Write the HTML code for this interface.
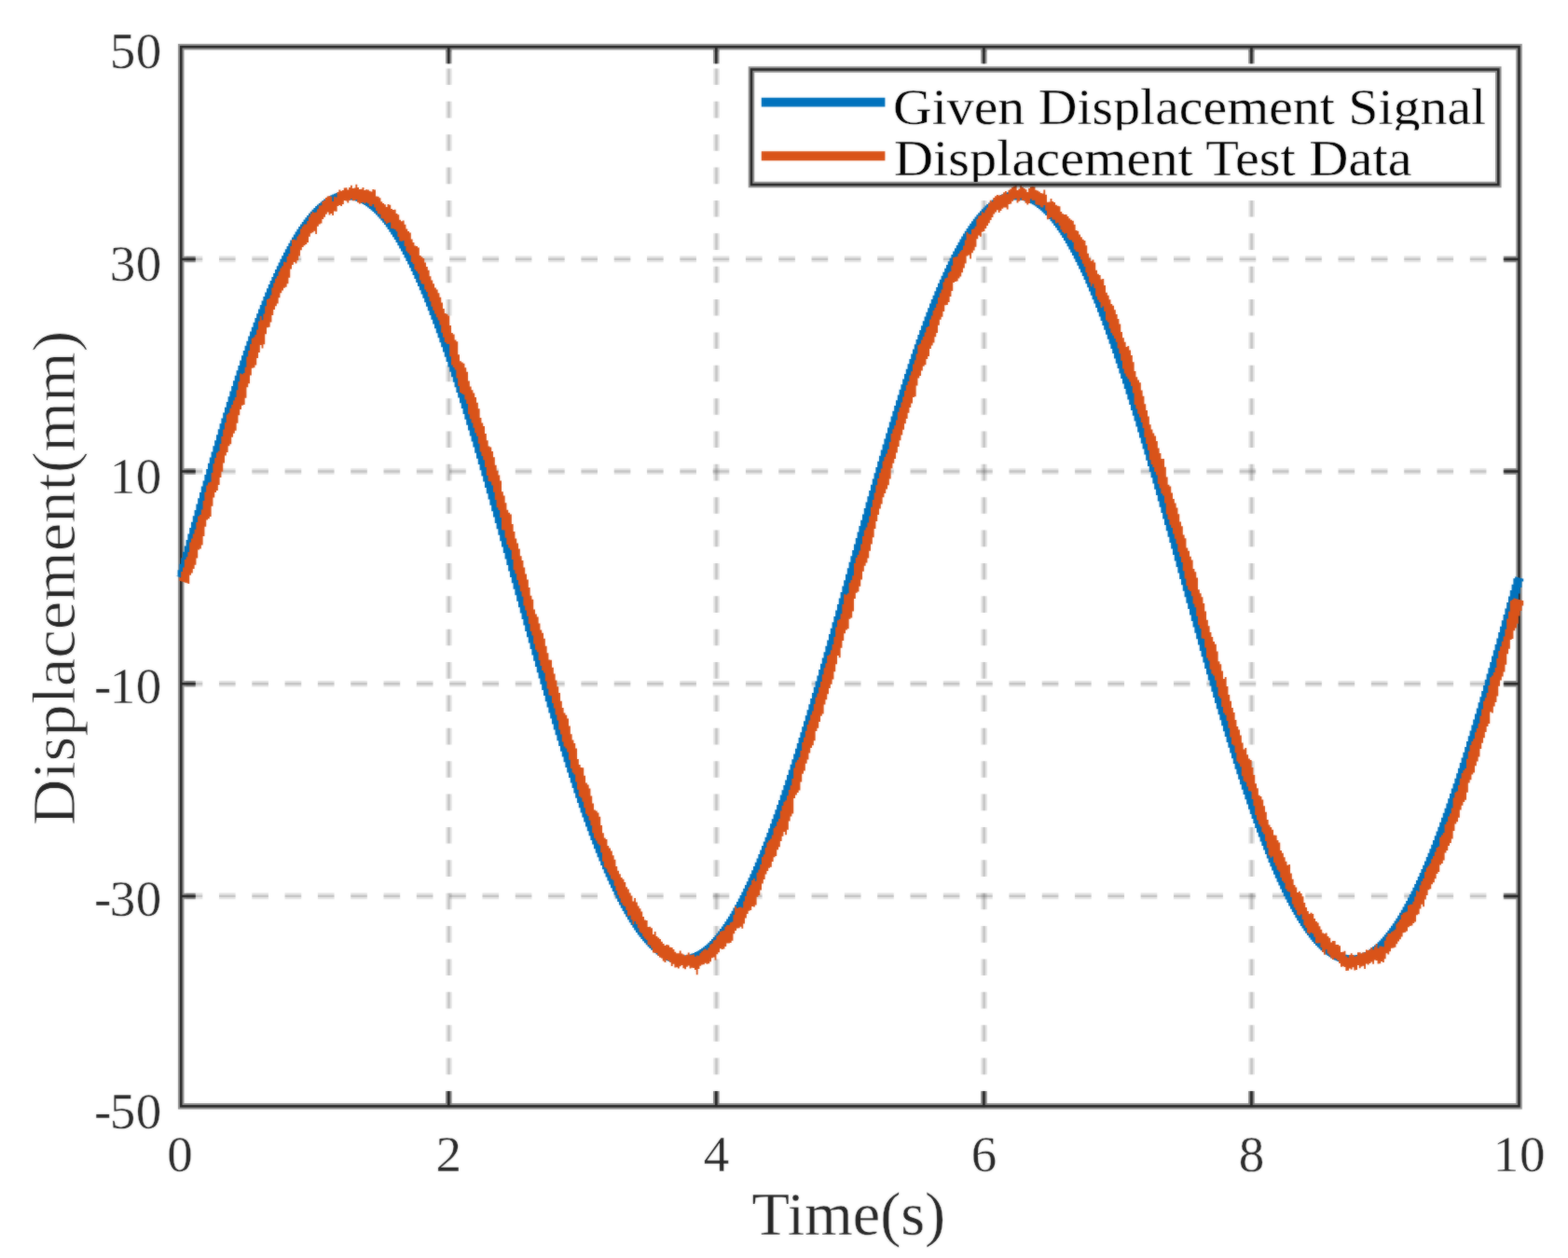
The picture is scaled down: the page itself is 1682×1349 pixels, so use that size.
<!DOCTYPE html>
<html lang="en"><head><meta charset="utf-8"><title>Displacement tracking</title>
<style>html,body{margin:0;padding:0;background:#fff;}body{width:1682px;height:1349px;overflow:hidden;}svg{display:block;}text{font-family:"Liberation Serif","DejaVu Serif",serif;}</style></head><body>
<svg width="1682" height="1349" viewBox="0 0 1682 1349">
<defs><filter id="soft" color-interpolation-filters="sRGB" filterUnits="userSpaceOnUse" x="0" y="0" width="1682" height="1349"><feGaussianBlur stdDeviation="1" result="b"/><feComposite in="SourceGraphic" in2="b" operator="arithmetic" k1="0" k2="0.6" k3="0.4" k4="0"/></filter></defs>
<rect x="0" y="0" width="1682" height="1349" fill="#ffffff"/>
<g filter="url(#soft)">
<rect x="0" y="0" width="1682" height="1349" fill="#ffffff"/>
<g fill="none" stroke-dasharray="17.6 17.77">
<path d="M481.5 1187.5V50.3M768.5 1187.5V50.3M1055.6 1187.5V50.3M1342.6 1187.5V50.3" stroke="#262626" stroke-opacity="0.125" stroke-width="6.6"/>
<path d="M481.5 1187.5V50.3M768.5 1187.5V50.3M1055.6 1187.5V50.3M1342.6 1187.5V50.3" stroke="#262626" stroke-opacity="0.17" stroke-width="2.4"/>
</g>
<g fill="none" stroke-dasharray="17.6 17.71">
<path d="M199.7 277.9H1629.5M199.7 505.5H1629.5M199.7 733.3H1629.5M199.7 960.9H1629.5" stroke="#262626" stroke-opacity="0.125" stroke-width="6.6"/>
<path d="M199.7 277.9H1629.5M199.7 505.5H1629.5M199.7 733.3H1629.5M199.7 960.9H1629.5" stroke="#262626" stroke-opacity="0.17" stroke-width="2.4"/>
</g>
<g fill="none" stroke="#262626">
<path d="M194.2 50.3H1629.5V1186.2H194.2ZM481.3 1186.2v-16.2M481.3 50.3v18M768.3 1186.2v-16.2M768.3 50.3v18M1055.4 1186.2v-16.2M1055.4 50.3v18M1342.4 1186.2v-16.2M1342.4 50.3v18M194.2 277.9h15.5M1629.5 277.9h-16.3M194.2 505.5h15.5M1629.5 505.5h-16.3M194.2 733.3h15.5M1629.5 733.3h-16.3M194.2 960.9h15.5M1629.5 960.9h-16.3" stroke-width="6.5" stroke-opacity="0.5"/>
<path d="M194.2 50.3H1629.5V1186.2H194.2ZM481.3 1186.2v-16.2M481.3 50.3v18M768.3 1186.2v-16.2M768.3 50.3v18M1055.4 1186.2v-16.2M1055.4 50.3v18M1342.4 1186.2v-16.2M1342.4 50.3v18M194.2 277.9h15.5M1629.5 277.9h-16.3M194.2 505.5h15.5M1629.5 505.5h-16.3M194.2 733.3h15.5M1629.5 733.3h-16.3M194.2 960.9h15.5M1629.5 960.9h-16.3" stroke-width="2.5"/>
</g>
<g fill="none" stroke-width="1.86">
<path d="M189.7 617.7V618.1M191.5 611.2V618.6M193.3 604.8V619.1M195.1 598.3V619.7M196.9 591.8V620.2M198.7 585.4V620.7M200.5 579V614.7M202.3 572.5V608.2M204.1 566.1V601.7M205.9 559.7V595.3M207.7 553.3V588.8M209.5 546.9V582.4M211.3 540.6V576M213.1 534.2V569.5M214.9 527.9V563.1M216.7 521.6V556.8M218.5 515.4V550.4M220.3 509.1V544M222.1 502.9V537.7M223.9 496.7V531.4M225.7 490.6V525.1M227.5 484.4V518.8M229.3 478.3V512.5M231.1 472.3V506.3M232.9 466.3V500.1M234.7 460.3V494M236.5 454.3V487.8M238.3 448.4V481.7M240.1 442.6V475.7M241.9 436.7V469.6M243.7 431V463.7M245.5 425.2V457.7M247.3 419.5V451.8M249.1 413.9V445.9M250.9 408.3V440.1M252.7 402.8V434.3M254.5 397.3V428.6M256.3 391.9V422.9M258.1 386.5V417.3M259.9 381.2V411.7M261.7 376V406.2M263.5 370.8V400.7M265.3 365.7V395.3M267.1 360.6V389.9M268.9 355.6V384.6M270.7 350.7V379.3M272.5 345.8V374.1M274.3 341V369M276.1 336.3V363.9M277.9 331.6V358.9M279.7 327V354M281.5 322.5V349.1M283.3 318V344.3M285.1 313.6V339.6M286.9 309.3V334.9M288.7 305.1V330.3M290.5 301V325.8M292.3 296.9V321.4M294.1 292.9V317M295.9 289V312.7M297.7 285.2V308.5M299.5 281.4V304.3M301.3 277.8V300.3M303.1 274.2V296.3M304.9 270.7V292.4M306.7 267.3V288.6M308.5 263.9V284.9M310.3 260.7V281.2M312.1 257.6V277.7M313.9 254.5V274.2M315.7 251.5V270.8M317.5 248.6V267.5M319.3 245.8V264.3M321.1 243.1V261.2M322.9 240.5V258.2M324.7 238V255.2M326.5 235.6V252.4M328.3 233.2V249.6M330.1 231V247M331.9 228.8V244.4M333.7 226.8V242M335.5 224.8V239.6M337.3 222.9V237.3M339.1 221.1V235.2M340.9 219.5V233.1M342.7 217.9V231.2M344.5 216.4V229.3M346.3 215V227.6M348.1 213.6V225.9M349.9 212.4V224.4M351.7 211.3V222.9M353.5 210.3V221.6M355.3 209.3V220.4M357.1 208.5V219.3M358.9 207.7V218.3M360.7 207V217.4M362.5 206.5V216.6M364.3 206V216M366.1 205.6V215.4M367.9 205.2V215M369.7 205V214.7M371.5 204.9V214.5M373.3 204.8V214.4M375.1 204.8V214.4M376.9 204.9V214.6M378.7 205.1V214.9M380.5 205.4V215.3M382.3 205.8V215.8M384.1 206.3V216.4M385.9 206.8V217.1M387.7 207.5V218M389.5 208.2V218.9M391.3 209V220M393.1 209.9V221.2M394.9 210.9V222.5M396.7 212V223.9M398.5 213.2V225.4M400.3 214.5V227M402.1 215.9V228.7M403.9 217.3V230.5M405.7 218.9V232.4M407.5 220.5V234.5M409.3 222.3V236.6M411.1 224.1V238.8M412.9 226.1V241.1M414.7 228.1V243.6M416.5 230.2V246.1M418.3 232.4V248.7M420.1 234.7V251.4M421.9 237.1V254.2M423.7 239.6V257.1M425.5 242.2V260.1M427.3 244.9V263.2M429.1 247.6V266.4M430.9 250.5V269.6M432.7 253.4V273M434.5 256.5V276.4M436.3 259.6V280M438.1 262.8V283.6M439.9 266.1V287.3M441.7 269.5V291.1M443.5 273V294.9M445.3 276.5V298.9M447.1 280.1V302.9M448.9 283.9V307M450.7 287.7V311.2M452.5 291.5V315.5M454.3 295.5V319.8M456.1 299.5V324.3M457.9 303.7V328.8M459.7 307.9V333.3M461.5 312.1V338M463.3 316.5V342.7M465.1 320.9V347.4M466.9 325.4V352.3M468.7 330V357.2M470.5 334.6V362.2M472.3 339.3V367.2M474.1 344.1V372.3M475.9 349V377.5M477.7 353.9V382.7M479.5 358.9V388M481.3 363.9V393.4M483.1 369V398.8M484.9 374.2V404.2M486.7 379.4V409.8M488.5 384.7V415.3M490.3 390V420.9M492.1 395.4V426.6M493.9 400.9V432.3M495.7 406.4V438.1M497.5 412V443.9M499.3 417.6V449.8M501.1 423.3V455.7M502.9 429V461.6M504.7 434.7V467.6M506.5 440.5V473.6M508.3 446.4V479.6M510.1 452.3V485.7M511.9 458.2V491.8M513.7 464.2V498M515.5 470.2V504.2M517.3 476.2V510.4M519.1 482.3V516.6M520.9 488.4V522.9M522.7 494.6V529.2M524.5 500.8V535.5M526.3 507V541.8M528.1 513.2V548.2M529.9 519.5V554.5M531.7 525.7V560.9M533.5 532.1V567.3M535.3 538.4V573.7M537.1 544.7V580.2M538.9 551.1V586.6M540.7 557.5V593M542.5 563.9V599.5M544.3 570.3V606M546.1 576.7V612.4M547.9 583.2V618.9M549.7 589.6V625.3M551.5 596.1V631.8M553.3 602.5V638.3M555.1 609V644.7M556.9 615.4V651.2M558.7 621.9V657.6M560.5 628.4V664M562.3 634.8V670.5M564.1 641.3V676.9M565.9 647.7V683.3M567.7 654.2V689.6M569.5 660.6V696M571.3 667V702.4M573.1 673.4V708.7M574.9 679.8V715M576.7 686.2V721.3M578.5 692.6V727.5M580.3 698.9V733.7M582.1 705.3V739.9M583.9 711.6V746.1M585.7 717.8V752.2M587.5 724.1V758.4M589.3 730.3V764.4M591.1 736.5V770.5M592.9 742.7V776.5M594.7 748.8V782.4M596.5 754.9V788.3M598.3 761V794.2M600.1 767.1V800.1M601.9 773.1V805.8M603.7 779V811.6M605.5 785V817.3M607.3 790.8V822.9M609.1 796.7V828.5M610.9 802.5V834.1M612.7 808.2V839.6M614.5 813.9V845M616.3 819.6V850.4M618.1 825.2V855.7M619.9 830.7V861M621.7 836.2V866.2M623.5 841.7V871.4M625.3 847.1V876.4M627.1 852.4V881.5M628.9 857.7V886.4M630.7 862.9V891.3M632.5 868V896.2M634.3 873.1V900.9M636.1 878.1V905.6M637.9 883.1V910.2M639.7 888V914.8M641.5 892.8V919.2M643.3 897.6V923.6M645.1 902.3V928M646.9 906.9V932.2M648.7 911.4V936.4M650.5 915.9V940.5M652.3 920.3V944.5M654.1 924.6V948.4M655.9 928.9V952.3M657.7 933V956.1M659.5 937.1V959.8M661.3 941.1V963.4M663.1 945V966.9M664.9 948.9V970.4M666.7 952.6V973.7M668.5 956.3V977M670.3 959.9V980.2M672.1 963.4V983.3M673.9 966.8V986.3M675.7 970.2V989.2M677.5 973.4V992M679.3 976.5V994.7M681.1 979.6V997.4M682.9 982.6V999.9M684.7 985.4V1002.4M686.5 988.2V1004.8M688.3 990.9V1007.1M690.1 993.5V1009.2M691.9 996V1011.3M693.7 998.4V1013.3M695.5 1000.7V1015.2M697.3 1002.9V1017M699.1 1005V1018.8M700.9 1007V1020.4M702.7 1008.9V1021.9M704.5 1010.6V1023.4M706.3 1012.3V1024.7M708.1 1013.9V1026M709.9 1015.4V1027.1M711.7 1016.7V1028.2M713.5 1018V1029.2M715.3 1019.1V1030M717.1 1020.2V1030.8M718.9 1021.1V1031.5M720.7 1021.9V1032.2M722.5 1022.6V1032.7M724.3 1023.2V1033.1M726.1 1023.7V1033.5M727.9 1024V1033.7M729.7 1024.3V1033.9M731.5 1024.4V1034M733.3 1024.4V1034M735.1 1024.3V1033.9M736.9 1024V1033.7M738.7 1023.7V1033.5M740.5 1023.2V1033.1M742.3 1022.6V1032.7M744.1 1022V1032.2M745.9 1021.1V1031.6M747.7 1020.2V1030.9M749.5 1019.2V1030.1M751.3 1018.1V1029.2M753.1 1016.8V1028.2M754.9 1015.4V1027.2M756.7 1014V1026M758.5 1012.4V1024.8M760.3 1010.7V1023.4M762.1 1008.9V1022M763.9 1007V1020.5M765.7 1005.1V1018.8M767.5 1003V1017.1M769.3 1000.8V1015.3M771.1 998.5V1013.4M772.9 996.1V1011.4M774.7 993.6V1009.3M776.5 991V1007.1M778.3 988.3V1004.9M780.1 985.6V1002.5M781.9 982.7V1000M783.7 979.7V997.5M785.5 976.7V994.9M787.3 973.5V992.1M789.1 970.3V989.3M790.9 967V986.4M792.7 963.6V983.4M794.5 960.1V980.3M796.3 956.5V977.1M798.1 952.8V973.8M799.9 949V970.5M801.7 945.2V967.1M803.5 941.3V963.5M805.3 937.3V959.9M807.1 933.2V956.2M808.9 929V952.5M810.7 924.8V948.6M812.5 920.5V944.7M814.3 916.1V940.7M816.1 911.6V936.6M817.9 907.1V932.4M819.7 902.5V928.2M821.5 897.8V923.8M823.3 893V919.4M825.1 888.2V915M826.9 883.3V910.4M828.7 878.3V905.8M830.5 873.3V901.1M832.3 868.2V896.4M834.1 863.1V891.5M835.9 857.9V886.6M837.7 852.6V881.7M839.5 847.3V876.7M841.3 841.9V871.6M843.1 836.5V866.4M844.9 831V861.2M846.7 825.4V855.9M848.5 819.8V850.6M850.3 814.2V845.2M852.1 808.5V839.8M853.9 802.7V834.3M855.7 796.9V828.8M857.5 791.1V823.2M859.3 785.2V817.5M861.1 779.3V811.8M862.9 773.3V806.1M864.7 767.3V800.3M866.5 761.3V794.5M868.3 755.2V788.6M870.1 749.1V782.7M871.9 743V776.7M873.7 736.8V770.7M875.5 730.6V764.7M877.3 724.4V758.6M879.1 718.1V752.5M880.9 711.8V746.4M882.7 705.5V740.2M884.5 699.2V734M886.3 692.8V727.8M888.1 686.5V721.5M889.9 680.1V715.2M891.7 673.7V708.9M893.5 667.3V702.6M895.3 660.9V696.3M897.1 654.4V689.9M898.9 648V683.5M900.7 641.5V677.1M902.5 635.1V670.7M904.3 628.6V664.3M906.1 622.2V657.9M907.9 615.7V651.4M909.7 609.2V645M911.5 602.8V638.5M913.3 596.3V632.1M915.1 589.9V625.6M916.9 583.4V619.1M918.7 577V612.7M920.5 570.6V606.2M922.3 564.1V599.8M924.1 557.7V593.3M925.9 551.4V586.9M927.7 545V580.4M929.5 538.6V574M931.3 532.3V567.6M933.1 526V561.2M934.9 519.7V554.8M936.7 513.5V548.4M938.5 507.2V542.1M940.3 501V535.7M942.1 494.8V529.4M943.9 488.7V523.1M945.7 482.6V516.9M947.5 476.5V510.6M949.3 470.4V504.4M951.1 464.4V498.2M952.9 458.4V492.1M954.7 452.5V486M956.5 446.6V479.9M958.3 440.8V473.8M960.1 435V467.8M961.9 429.2V461.8M963.7 423.5V455.9M965.5 417.8V450M967.3 412.2V444.1M969.1 406.6V438.3M970.9 401.1V432.6M972.7 395.7V426.9M974.5 390.3V421.2M976.3 384.9V415.6M978.1 379.6V410M979.9 374.4V404.5M981.7 369.2V399M983.5 364.1V393.6M985.3 359.1V388.3M987.1 354.1V383M988.9 349.2V377.7M990.7 344.3V372.6M992.5 339.5V367.4M994.3 334.8V362.4M996.1 330.2V357.4M997.9 325.6V352.5M999.7 321.1V347.6M1001.5 316.7V342.9M1003.3 312.3V338.2M1005.1 308V333.5M1006.9 303.8V328.9M1008.7 299.7V324.4M1010.5 295.7V320M1012.3 291.7V315.7M1014.1 287.8V311.4M1015.9 284V307.2M1017.7 280.3V303.1M1019.5 276.7V299.1M1021.3 273.1V295.1M1023.1 269.6V291.2M1024.9 266.2V287.4M1026.7 262.9V283.7M1028.5 259.7V280.1M1030.3 256.6V276.6M1032.1 253.6V273.1M1033.9 250.6V269.8M1035.7 247.8V266.5M1037.5 245V263.3M1039.3 242.3V260.2M1041.1 239.7V257.2M1042.9 237.2V254.3M1044.7 234.8V251.5M1046.5 232.5V248.8M1048.3 230.3V246.2M1050.1 228.2V243.7M1051.9 226.2V241.2M1053.7 224.2V238.9M1055.5 222.4V236.7M1057.3 220.6V234.5M1059.1 219V232.5M1060.9 217.4V230.6M1062.7 215.9V228.8M1064.5 214.6V227M1066.3 213.3V225.4M1068.1 212.1V223.9M1069.9 211V222.5M1071.7 210V221.2M1073.5 209.1V220M1075.3 208.2V219M1077.1 207.5V218M1078.9 206.9V217.1M1080.7 206.3V216.4M1082.5 205.8V215.8M1084.3 205.4V215.3M1086.1 205.2V214.9M1087.9 205V214.6M1089.7 204.8V214.4M1091.5 204.8V214.4M1093.3 204.9V214.5M1095.1 205V214.7M1096.9 205.2V215M1098.7 205.5V215.4M1100.5 205.9V215.9M1102.3 206.4V216.6M1104.1 207V217.4M1105.9 207.7V218.2M1107.7 208.4V219.2M1109.5 209.3V220.3M1111.3 210.2V221.6M1113.1 211.3V222.9M1114.9 212.4V224.3M1116.7 213.6V225.8M1118.5 214.9V227.5M1120.3 216.3V229.2M1122.1 217.8V231.1M1123.9 219.4V233M1125.7 221.1V235.1M1127.5 222.8V237.3M1129.3 224.7V239.5M1131.1 226.7V241.9M1132.9 228.7V244.3M1134.7 230.9V246.9M1136.5 233.1V249.5M1138.3 235.5V252.3M1140.1 237.9V255.1M1141.9 240.4V258M1143.7 243V261.1M1145.5 245.7V264.2M1147.3 248.5V267.4M1149.1 251.4V270.7M1150.9 254.4V274M1152.7 257.4V277.5M1154.5 260.6V281.1M1156.3 263.8V284.7M1158.1 267.1V288.4M1159.9 270.5V292.3M1161.7 274V296.1M1163.5 277.6V300.1M1165.3 281.3V304.2M1167.1 285V308.3M1168.9 288.8V312.5M1170.7 292.7V316.8M1172.5 296.7V321.2M1174.3 300.8V325.6M1176.1 304.9V330.1M1177.9 309.2V334.7M1179.7 313.5V339.4M1181.5 317.8V344.1M1183.3 322.3V348.9M1185.1 326.8V353.8M1186.9 331.4V358.7M1188.7 336.1V363.7M1190.5 340.8V368.8M1192.3 345.6V373.9M1194.1 350.5V379.1M1195.9 355.4V384.4M1197.7 360.4V389.7M1199.5 365.5V395M1201.3 370.6V400.4M1203.1 375.8V405.9M1204.9 381V411.5M1206.7 386.3V417M1208.5 391.7V422.7M1210.3 397.1V428.4M1212.1 402.6V434.1M1213.9 408.1V439.9M1215.7 413.7V445.7M1217.5 419.3V451.6M1219.3 425V457.5M1221.1 430.7V463.4M1222.9 436.5V469.4M1224.7 442.3V475.4M1226.5 448.2V481.5M1228.3 454.1V487.6M1230.1 460V493.7M1231.9 466V499.9M1233.7 472V506.1M1235.5 478.1V512.3M1237.3 484.2V518.5M1239.1 490.3V524.8M1240.9 496.5V531.1M1242.7 502.6V537.4M1244.5 508.9V543.8M1246.3 515.1V550.1M1248.1 521.4V556.5M1249.9 527.7V562.9M1251.7 534V569.3M1253.5 540.3V575.7M1255.3 546.7V582.1M1257.1 553V588.6M1258.9 559.4V595M1260.7 565.8V601.5M1262.5 572.3V607.9M1264.3 578.7V614.4M1266.1 585.1V620.9M1267.9 591.6V627.3M1269.7 598V633.8M1271.5 604.5V640.2M1273.3 610.9V646.7M1275.1 617.4V653.1M1276.9 623.9V659.6M1278.7 630.3V666M1280.5 636.8V672.4M1282.3 643.2V678.8M1284.1 649.7V685.2M1285.9 656.1V691.6M1287.7 662.6V698M1289.5 669V704.3M1291.3 675.4V710.6M1293.1 681.8V716.9M1294.9 688.2V723.2M1296.7 694.5V729.4M1298.5 700.9V735.6M1300.3 707.2V741.8M1302.1 713.5V748M1303.9 719.8V754.1M1305.7 726V760.2M1307.5 732.2V766.3M1309.3 738.4V772.3M1311.1 744.6V778.3M1312.9 750.7V784.2M1314.7 756.8V790.1M1316.5 762.9V796M1318.3 768.9V801.8M1320.1 774.9V807.6M1321.9 780.8V813.3M1323.7 786.8V819M1325.5 792.6V824.7M1327.3 798.5V830.2M1329.1 804.2V835.8M1330.9 810V841.2M1332.7 815.7V846.7M1334.5 821.3V852M1336.3 826.9V857.3M1338.1 832.4V862.6M1339.9 837.9V867.8M1341.7 843.3V872.9M1343.5 848.7V878M1345.3 854V883M1347.1 859.3V887.9M1348.9 864.5V892.8M1350.7 869.6V897.6M1352.5 874.7V902.4M1354.3 879.7V907M1356.1 884.6V911.6M1357.9 889.5V916.1M1359.7 894.3V920.6M1361.5 899V925M1363.3 903.7V929.3M1365.1 908.3V933.5M1366.9 912.8V937.7M1368.7 917.3V941.7M1370.5 921.6V945.7M1372.3 925.9V949.6M1374.1 930.1V953.5M1375.9 934.3V957.2M1377.7 938.3V960.9M1379.5 942.3V964.5M1381.3 946.2V968M1383.1 950V971.4M1384.9 953.8V974.7M1386.7 957.4V978M1388.5 961V981.1M1390.3 964.5V984.2M1392.1 967.9V987.2M1393.9 971.2V990.1M1395.7 974.4V992.9M1397.5 977.5V995.6M1399.3 980.5V998.2M1401.1 983.5V1000.7M1402.9 986.3V1003.1M1404.7 989.1V1005.5M1406.5 991.7V1007.7M1408.3 994.3V1009.9M1410.1 996.7V1012M1411.9 999.1V1013.9M1413.7 1001.4V1015.8M1415.5 1003.5V1017.6M1417.3 1005.6V1019.3M1419.1 1007.6V1020.9M1420.9 1009.4V1022.4M1422.7 1011.2V1023.8M1424.5 1012.8V1025.1M1426.3 1014.4V1026.3M1428.1 1015.8V1027.5M1429.9 1017.1V1028.5M1431.7 1018.4V1029.4M1433.5 1019.5V1030.3M1435.3 1020.5V1031.1M1437.1 1021.4V1031.7M1438.9 1022.1V1032.3M1440.7 1022.8V1032.8M1442.5 1023.4V1033.2M1444.3 1023.8V1033.6M1446.1 1024.1V1033.8M1447.9 1024.3V1033.9M1449.7 1024.4V1034M1451.5 1024.4V1034M1453.3 1024.2V1033.9M1455.1 1023.9V1033.7M1456.9 1023.6V1033.4M1458.7 1023.1V1033M1460.5 1022.4V1032.5M1462.3 1021.7V1032M1464.1 1020.9V1031.4M1465.9 1019.9V1030.6M1467.7 1018.9V1029.8M1469.5 1017.7V1028.9M1471.3 1016.4V1027.9M1473.1 1015V1026.8M1474.9 1013.5V1025.6M1476.7 1011.9V1024.4M1478.5 1010.2V1023M1480.3 1008.4V1021.5M1482.1 1006.4V1020M1483.9 1004.4V1018.3M1485.7 1002.3V1016.6M1487.5 1000.1V1014.7M1489.3 997.8V1012.8M1491.1 995.3V1010.8M1492.9 992.8V1008.7M1494.7 990.2V1006.5M1496.5 987.5V1004.2M1498.3 984.7V1001.8M1500.1 981.8V999.3M1501.9 978.8V996.7M1503.7 975.7V994M1505.5 972.6V991.3M1507.3 969.3V988.4M1509.1 965.9V985.5M1510.9 962.5V982.4M1512.7 959V979.3M1514.5 955.4V976.1M1516.3 951.7V972.8M1518.1 947.9V969.5M1519.9 944V966M1521.7 940.1V962.4M1523.5 936V958.8M1525.3 931.9V955.1M1527.1 927.7V951.3M1528.9 923.5V947.4M1530.7 919.1V943.5M1532.5 914.7V939.4M1534.3 910.2V935.3M1536.1 905.7V931.1M1537.9 901V926.8M1539.7 896.3V922.5M1541.5 891.6V918.1M1543.3 886.7V913.6M1545.1 881.8V909M1546.9 876.8V904.4M1548.7 871.8V899.7M1550.5 866.7V894.9M1552.3 861.5V890M1554.1 856.3V885.1M1555.9 851V880.2M1557.7 845.6V875.1M1559.5 840.2V870M1561.3 834.8V864.8M1563.1 829.3V859.6M1564.9 823.7V854.3M1566.7 818.1V849M1568.5 812.4V843.6M1570.3 806.7V838.1M1572.1 800.9V832.6M1573.9 795.1V827.1M1575.7 789.3V821.4M1577.5 783.4V815.8M1579.3 777.5V810.1M1581.1 771.5V804.3M1582.9 765.5V798.5M1584.7 759.4V792.7M1586.5 753.3V786.8M1588.3 747.2V780.8M1590.1 741.1V774.9M1591.9 734.9V768.9M1593.7 728.7V762.8M1595.5 722.4V756.7M1597.3 716.2V750.6M1599.1 709.9V744.5M1600.9 703.6V738.3M1602.7 697.3V732.1M1604.5 690.9V725.9M1606.3 684.5V719.6M1608.1 678.1V713.3M1609.9 671.7V707M1611.7 665.3V700.7M1613.5 658.9V694.3M1615.3 652.5V688M1617.1 646V681.6M1618.9 639.6V675.2M1620.7 633.1V668.8M1622.5 626.7V662.3M1624.3 620.2V655.9M1626.1 618.5V649.5M1627.9 619V643M1629.7 619.5V636.6M1631.5 620V630.1M1633.3 620.5V623.6" stroke="#0072BD"/>
<path d="M193.3 619.2V622.9M195.1 613.1V623.5M196.9 608.6V624.1M198.7 599.9V624.7M200.5 597.3V625.3M202.3 592.1V625.9M204.1 581.6V616.7M205.9 577.5V614.4M207.7 572.6V610M209.5 567.8V605.7M211.3 560.1V598.5M213.1 553.6V589.5M214.9 552V588.4M216.7 546.5V584.6M218.5 536.9V575.1M220.3 527.8V564.8M222.1 520.5V557.6M223.9 517.6V556.2M225.7 516.8V554.1M227.5 506.9V542.8M229.3 497.2V533.4M231.1 491V528.1M232.9 485.4V526.1M234.7 483.7V520.1M236.5 476V512M238.3 468.1V505.7M240.1 460.4V496.4M241.9 453.3V488.6M243.7 444.5V484.9M245.5 442.7V478.3M247.3 437.7V476.3M249.1 434.1V468.8M250.9 429.5V464.7M252.7 426.1V461.7M254.5 418.3V453.8M256.3 409.3V445.3M258.1 400.5V438.9M259.9 401.2V434.8M261.7 400V434M263.5 393.7V426.7M265.3 382.6V415.2M267.1 376.1V411.2M268.9 368.9V402.5M270.7 362.8V394.8M272.5 361.5V394.3M274.3 359V391.5M276.1 353.6V384.1M277.9 344.4V378M279.7 339.1V370.1M281.5 343.2V373.4M283.3 336.4V369.3M285.1 328.3V358.3M286.9 321.1V351.3M288.7 320V350.8M290.5 316.4V345.5M292.3 308.4V338.1M294.1 303.4V332M295.9 298.7V328.2M297.7 295.9V325.5M299.5 291.3V319.3M301.3 287.4V314.3M303.1 285.2V311.4M304.9 280.7V308.8M306.7 281.3V307.8M308.5 275V304.2M310.3 272.1V297.8M312.1 264.1V288.6M313.9 256.9V284.1M315.7 256.7V281.1M317.5 257.6V282.5M319.3 253.5V279.3M321.1 251.3V274.4M322.9 245.4V268.3M324.7 242.7V265M326.5 240.6V263.3M328.3 240.4V261.9M330.1 237.1V260.1M331.9 232.5V253.8M333.7 229.6V250.3M335.5 227.3V249.2M337.3 228V247.8M339.1 227.4V251M340.9 224.2V242.8M342.7 220.5V240.5M344.5 220.3V239.4M346.3 215.9V235M348.1 215V232.8M349.9 212.1V229.7M351.7 210.4V227.6M353.5 210.3V230.5M355.3 210.7V228.9M357.1 215.9V231M358.9 210.7V226.5M360.7 211.4V226.8M362.5 205.9V220.9M364.3 203.5V219.9M366.1 204.7V221.1M367.9 203.9V219M369.7 201.6V215.1M371.5 201.3V215.4M373.3 203.4V217.4M375.1 201.1V214.8M376.9 198.7V212.9M378.7 202V215.2M380.5 201.6V214.9M382.3 197.8V214M384.1 200.9V217.2M385.9 202.9V218.4M387.7 202.8V217.5M389.5 200.9V217.1M391.3 203.9V218.2M393.1 203.3V217.3M394.9 203.4V218.3M396.7 204.7V221.1M398.5 205.5V221.3M400.3 203V219M402.1 203.5V222.5M403.9 210.4V225.9M405.7 210.7V229.2M407.5 212.3V229.7M409.3 216.3V233.9M411.1 217.9V234.7M412.9 219.3V237.4M414.7 222V239.9M416.5 218.9V239M418.3 219.7V238.4M420.1 224V245.1M421.9 225.1V245.3M423.7 224.8V246M425.5 228.9V248.2M427.3 230.2V254.1M429.1 235.8V258.5M430.9 237.2V258.8M432.7 236.5V258M434.5 240.7V264M436.3 245.5V269.6M438.1 247.9V271.4M439.9 249.5V273.7M441.7 256.4V280.9M443.5 260.1V282.9M445.3 263.4V289M447.1 264.1V291.1M448.9 265.6V293.4M450.7 273.9V300.6M452.5 275.6V304.2M454.3 276.9V304.8M456.1 281.5V310.4M457.9 285.9V313.1M459.7 289.7V318.2M461.5 296.2V323.2M463.3 300.6V328.8M465.1 304.3V332.8M466.9 308.5V336.6M468.7 310.6V340.3M470.5 314.2V343.5M472.3 318.8V348.4M474.1 324.4V356.7M475.9 331V361.7M477.7 336V367.1M479.5 336.7V368.8M481.3 338.4V369.1M483.1 349V382.3M484.9 357V391.4M486.7 358.4V393.9M488.5 364.5V396.5M490.3 366.2V405.4M492.1 380.3V414M493.9 387.3V420.9M495.7 388.5V422.3M497.5 389.8V423.2M499.3 394.3V428.5M501.1 398.7V433M502.9 408.4V444.2M504.7 414.4V449.2M506.5 418.3V453.4M508.3 421.4V458.7M510.1 425.9V464.3M511.9 431.7V467.8M513.7 438.3V475.7M515.5 447.9V484.4M517.3 453.5V489M519.1 456.9V493.3M520.9 465V501.1M522.7 472.3V510M524.5 478.6V515.9M526.3 479.5V516.5M528.1 484V520.5M529.9 490.3V527.8M531.7 498.8V536M533.5 504.7V544.2M535.3 509.4V546.9M537.1 515.5V555.1M538.9 527.3V568.2M540.7 531.6V568.5M542.5 539.3V576.8M544.3 546.8V584M546.1 549.7V587.4M547.9 551.6V589.7M549.7 561.9V600M551.5 570V611.3M553.3 577.5V615.3M555.1 582.4V622.1M556.9 588.5V627.5M558.7 596.3V634.3M560.5 601V639.8M562.3 608.4V649.6M564.1 615.6V654.4M565.9 621.5V660.8M567.7 630V668.9M569.5 638.8V677M571.3 642.8V681.5M573.1 653.4V690.6M574.9 658.6V696.8M576.7 661.4V699.2M578.5 668.6V707.9M580.3 675.6V714.1M582.1 678.7V719M583.9 684.7V721.4M585.7 692.7V730.5M587.5 700.2V738.5M589.3 707.6V745.5M591.1 707.7V746.3M592.9 715.8V754M594.7 722.6V759.5M596.5 729.6V766.5M598.3 736.2V772.4M600.1 743V782.4M601.9 751.8V787.5M603.7 759V795.5M605.5 764.4V800.4M607.3 766.8V802.6M609.1 770.4V806.5M610.9 778.6V814.7M612.7 787.3V824.1M614.5 793.6V828.6M616.3 796.9V830.6M618.1 802.5V838.5M619.9 813.9V846.7M621.7 819.9V853.9M623.5 823V855.5M625.3 823.2V859.8M627.1 831.7V866.2M628.9 839.4V872.7M630.7 841.4V874.9M632.5 845.5V879.8M634.3 853.4V885.3M636.1 861.5V893.2M637.9 868.4V898.7M639.7 869.6V901.5M641.5 871.5V904.7M643.3 875.8V906.4M645.1 884.9V914.3M646.9 893.3V923.8M648.7 898.5V930.1M650.5 899.9V931.5M652.3 907V935.4M654.1 909.5V938.5M655.9 912.5V942.6M657.7 917.3V943.8M659.5 921.7V950M661.3 928.9V955.1M663.1 933.7V959.8M664.9 937.3V963.3M666.7 941.1V968.1M668.5 942.8V970.7M670.3 946.1V972.1M672.1 951.3V976M673.9 953.6V982.3M675.7 957.5V981.7M677.5 960.6V986.2M679.3 966.4V991.2M681.1 962.9V988M682.9 967.6V991.1M684.7 971.6V995.3M686.5 974.2V999.4M688.3 977.5V1000.8M690.1 983V1004.3M691.9 986.5V1006.6M693.7 987V1008.1M695.5 994V1013M697.3 993.7V1013.7M699.1 995.2V1016.5M700.9 1002.1V1021.5M702.7 999.1V1021.7M704.5 1004.1V1021.9M706.3 1005.6V1025.1M708.1 1006.9V1026.7M709.9 1009.7V1027.4M711.7 1012.1V1030.5M713.5 1013.9V1032M715.3 1013.1V1029.2M717.1 1013.5V1030.1M718.9 1015.8V1031.7M720.7 1016V1036.1M722.5 1017.9V1033.8M724.3 1020.8V1037.5M726.1 1022.3V1037.3M727.9 1022.2V1038.6M729.7 1019.4V1036.2M731.5 1022.4V1035M733.3 1023.4V1038.3M735.1 1025V1039.2M736.9 1023.8V1036.8M738.7 1021.6V1035.4M740.5 1024.2V1038.6M742.3 1024V1037.8M744.1 1023.4V1038.1M745.9 1025.8V1040M747.7 1024.6V1045.2M749.5 1024.8V1039.1M751.3 1022V1035.8M753.1 1020.3V1034.5M754.9 1018.8V1034.3M756.7 1017.6V1032.8M758.5 1018.8V1033.8M760.3 1016.2V1033.2M762.1 1012.8V1031.3M763.9 1011.8V1027.2M765.7 1008.4V1026.5M767.5 1007.7V1029.4M769.3 1003.8V1023.2M771.1 1002.2V1021.3M772.9 999.1V1017.3M774.7 998.3V1017.9M776.5 997.8V1017.6M778.3 993.7V1015.1M780.1 992V1011.5M781.9 991.9V1011.4M783.7 989.2V1011.1M785.5 988.4V1008.7M787.3 981V1001.2M789.1 972.1V998M790.9 973.9V995.6M792.7 973V995.3M794.5 972.4V993.8M796.3 973.4V995.8M798.1 966.6V990.4M799.9 961.1V984.4M801.7 955.5V980M803.5 951.6V976.7M805.3 949V976M807.1 943.9V972M808.9 942.1V972.5M810.7 945V970.6M812.5 935.7V961.8M814.3 932.6V960.1M816.1 927V954.4M817.9 919V947.5M819.7 916.2V943M821.5 909.1V937.6M823.3 903.4V933.9M825.1 901.2V930.8M826.9 899.4V929.8M828.7 895.5V924M830.5 887.9V919.3M832.3 886V918.1M834.1 881.2V911.3M835.9 878.1V908.2M837.7 869.5V901.9M839.5 864V896.8M841.3 859.7V891.9M843.1 858.3V895.3M844.9 853.3V889.8M846.7 846.9V880.6M848.5 842.3V875.4M850.3 835V872.4M852.1 823.6V855.9M853.9 817.5V852.4M855.7 815.1V849.9M857.5 812V847.5M859.3 804.9V838.5M861.1 796.1V829.8M862.9 790.7V826.6M864.7 783.7V818.8M866.5 777.1V814.6M868.3 772.5V807.5M870.1 766.5V802.1M871.9 762.4V799.3M873.7 754.9V794.3M875.5 747.8V784.1M877.3 743.5V780.7M879.1 737.1V774M880.9 731.1V767.8M882.7 723.3V765.4M884.5 716.3V755.6M886.3 711.3V750.3M888.1 703.1V744.3M889.9 701.8V738M891.7 697.2V733.8M893.5 691V728.5M895.3 682.9V720.2M897.1 672.5V712.3M898.9 665.2V702.9M900.7 663.9V705.2M902.5 658.2V694.7M904.3 648.1V687.1M906.1 637.3V679.2M907.9 637.8V675.4M909.7 636.3V674.2M911.5 625.1V663.7M913.3 621.9V662.5M915.1 617.3V655.5M916.9 603.9V642M918.7 597.9V635.8M920.5 594.9V634.4M922.3 590.5V628.8M924.1 583.4V621.4M925.9 575V612.8M927.7 568.4V606.7M929.5 565.5V603.5M931.3 560.5V598.4M933.1 553.5V590.8M934.9 543.7V583.6M936.7 535.9V576.2M938.5 528.5V567M940.3 520.3V558.9M942.1 513V552.1M943.9 507.1V545.6M945.7 502.5V540.6M947.5 494.4V533.2M949.3 489.9V529M951.1 486.6V524.6M952.9 481.8V520.2M954.7 473.9V513.4M956.5 464.9V502.3M958.3 460.2V496.8M960.1 456.2V492.1M961.9 450.5V485.6M963.7 441.8V479M965.5 437.1V472.2M967.3 431.4V466.5M969.1 425.6V460.7M970.9 418.9V454.3M972.7 412.9V449.1M974.5 408.9V442.8M976.3 402.4V437M978.1 398.3V432.5M979.9 390.4V426M981.7 386.3V425.3M983.5 379.5V413.6M985.3 370.1V405.4M987.1 368.5V403.1M988.9 364.4V397.4M990.7 361.1V392.8M992.5 356.5V391.2M994.3 350.9V385M996.1 350.1V382.1M997.9 342.6V374.1M999.7 338.6V370.4M1001.5 333.1V367.6M1003.3 329.9V361.3M1005.1 325.8V357M1006.9 319.1V348.8M1008.7 314.3V342.7M1010.5 310.5V339.7M1012.3 302.5V334.1M1014.1 298.5V327.3M1015.9 297.8V327M1017.7 292.6V323.9M1019.5 291.1V317.9M1021.3 284.8V312M1023.1 275.9V303M1024.9 275.4V301.9M1026.7 275.2V301.5M1028.5 271.9V298.5M1030.3 269.4V296.4M1032.1 268V292.3M1033.9 263.4V287.4M1035.7 257.6V282.5M1037.5 249.1V274.5M1039.3 250.7V273.6M1041.1 251.3V277.4M1042.9 246.1V271.2M1044.7 245.2V268.6M1046.5 242.8V264.7M1048.3 234.8V256.3M1050.1 231.4V252.4M1051.9 231V253.8M1053.7 227.3V248.7M1055.5 228.2V248M1057.3 225.2V244.9M1059.1 222.6V242M1060.9 218.4V239.3M1062.7 214.8V235.9M1064.5 216.3V233M1066.3 212V229.4M1068.1 210.2V227.6M1069.9 209V225.2M1071.7 209.4V227.9M1073.5 209.5V226.1M1075.3 208.6V223.8M1077.1 206.2V222.5M1078.9 205V222.5M1080.7 207.9V224.4M1082.5 203.7V219M1084.3 202.5V218.4M1086.1 200.8V215.7M1087.9 199.8V213.8M1089.7 196.9V212.7M1091.5 204V217.6M1093.3 202.6V215.8M1095.1 198.5V212.6M1096.9 200.7V215.1M1098.7 202.1V215.1M1100.5 203.3V217.8M1102.3 206.1V219.5M1104.1 202.1V217.9M1105.9 200.3V213.3M1107.7 199.9V215M1109.5 200.3V214.8M1111.3 203.8V219.2M1113.1 204.6V219.8M1114.9 205.5V219.9M1116.7 207.1V222.3M1118.5 207.6V222.6M1120.3 203.6V219.9M1122.1 208.7V225.8M1123.9 216.7V235.2M1125.7 216.5V234.3M1127.5 213.1V232.9M1129.3 216.1V235.5M1131.1 217V235.8M1132.9 219.7V239.6M1134.7 220.7V238.8M1136.5 221.3V241.9M1138.3 227.1V246.2M1140.1 229.3V249.1M1141.9 229.9V250.8M1143.7 230V250M1145.5 231.9V255.2M1147.3 234.3V257.2M1149.1 235.8V257.4M1150.9 236.7V259.8M1152.7 240.8V267.5M1154.5 247V269.7M1156.3 247.7V270.2M1158.1 251.6V275M1159.9 254.2V278.3M1161.7 256.7V282.7M1163.5 258.1V286.1M1165.3 263.2V292.2M1167.1 271.8V296.6M1168.9 276.4V302.7M1170.7 279.7V307.2M1172.5 278.5V304.5M1174.3 281.6V309M1176.1 289.8V317.7M1177.9 293.7V321.4M1179.7 295V324M1181.5 299.5V329.9M1183.3 299V328.5M1185.1 305.9V334.1M1186.9 313.7V343.6M1188.7 316.7V345.5M1190.5 321.3V352.3M1192.3 325.9V356.9M1194.1 327.8V359.7M1195.9 332.2V362.9M1197.7 336.9V366.7M1199.5 342.1V373.5M1201.3 347.6V379.2M1203.1 356.1V386.7M1204.9 362.3V395.5M1206.7 366.7V400.4M1208.5 372V403.8M1210.3 370.9V406.3M1212.1 375.5V409.6M1213.9 380.9V414M1215.7 388.2V421.4M1217.5 398V433.9M1219.3 404.2V438.4M1221.1 407.6V443.7M1222.9 410.2V447.6M1224.7 418.4V453.1M1226.5 424.8V459M1228.3 433.2V469M1230.1 440V475.9M1231.9 446.4V482.8M1233.7 455.3V493.3M1235.5 460.6V497.9M1237.3 464.4V501.1M1239.1 467.6V506M1240.9 473.1V509.5M1242.7 480.5V518.9M1244.5 486.1V523.6M1246.3 492V529.2M1248.1 492V531.5M1249.9 500.7V539.5M1251.7 511.6V551.5M1253.5 519.7V557M1255.3 521.5V562.7M1257.1 528.5V566.1M1258.9 535.1V572.5M1260.7 539.6V577.8M1262.5 544.5V583.2M1264.3 551.2V591.7M1266.1 559.5V597.1M1267.9 564.2V602.9M1269.7 573.5V612.2M1271.5 577.2V620.5M1273.3 587.5V628.3M1275.1 590.8V632.4M1276.9 596.8V633.9M1278.7 600.5V639.3M1280.5 610.1V647.4M1282.3 613.3V651.3M1284.1 619.6V660.8M1285.9 632.3V670.3M1287.7 636.3V674M1289.5 640.3V684.6M1291.3 647.1V685M1293.1 655.5V694.5M1294.9 664.8V705.6M1296.7 671.3V708.5M1298.5 677.9V717.7M1300.3 683.1V722.6M1302.1 687.9V724.6M1303.9 690.8V729.4M1305.7 698.5V736.7M1307.5 709.2V746.4M1309.3 712.2V748.7M1311.1 719.5V758M1312.9 728.1V764.4M1314.7 726.1V766.7M1316.5 735.9V772.9M1318.3 744.9V780.8M1320.1 751.7V790.6M1321.9 758.9V798.3M1323.7 763.9V799.4M1325.5 772.1V807.2M1327.3 779.1V816.6M1329.1 782.6V818.8M1330.9 788.5V822.2M1332.7 796.4V832.2M1334.5 803.5V837.4M1336.3 802.1V838.7M1338.1 809.2V843.6M1339.9 813.4V848.3M1341.7 814.9V848.5M1343.5 822.9V857M1345.3 831V864.3M1347.1 840.2V874M1348.9 845.2V879.4M1350.7 852.8V884.1M1352.5 854V886.6M1354.3 857.5V892.3M1356.1 864.3V894.5M1357.9 870.8V901.9M1359.7 879V909.2M1361.5 884.6V917.3M1363.3 887.1V919.8M1365.1 889.8V918.5M1366.9 895.4V924.9M1368.7 895.8V928.6M1370.5 900.9V932.7M1372.3 903.5V934.8M1374.1 912.1V940.9M1375.9 914.7V944.8M1377.7 919.3V946.8M1379.5 923.8V953.2M1381.3 927.7V955.7M1383.1 926.9V956.5M1384.9 936.5V961.9M1386.7 942.7V969.6M1388.5 948.9V973.3M1390.3 951.5V976M1392.1 957V980.9M1393.9 955.7V982.1M1395.7 958V980.6M1397.5 961.2V986M1399.3 968V992.3M1401.1 972.9V995M1402.9 977.1V1000.2M1404.7 979.9V1001.8M1406.5 978.8V1000.1M1408.3 980.1V1001.2M1410.1 984.9V1004.8M1411.9 987.9V1011.3M1413.7 989.4V1011.5M1415.5 993.2V1011.3M1417.3 996.8V1015.9M1419.1 1000.6V1020.9M1420.9 1001.3V1023.7M1422.7 1000.5V1018.3M1424.5 1004V1022.5M1426.3 1005.8V1024.6M1428.1 1010.4V1027.2M1429.9 1009V1029M1431.7 1008.9V1027.6M1433.5 1013.1V1028.6M1435.3 1012.9V1030M1437.1 1014.2V1033.1M1438.9 1021V1036.7M1440.7 1020.8V1036.3M1442.5 1019.7V1037M1444.3 1025.6V1040.9M1446.1 1026.8V1040.7M1447.9 1024V1038.5M1449.7 1022.2V1039.4M1451.5 1024.1V1037.2M1453.3 1025.7V1040.6M1455.1 1025.3V1039.9M1456.9 1021.3V1035.1M1458.7 1021.3V1038.2M1460.5 1022.6V1036.4M1462.3 1021.2V1035.8M1464.1 1021.6V1038.9M1465.9 1018.6V1033.5M1467.7 1018.9V1034.4M1469.5 1018.5V1033.1M1471.3 1016V1031.5M1473.1 1018.3V1033.7M1474.9 1015.3V1029.6M1476.7 1011.9V1029.9M1478.5 1016.7V1033.6M1480.3 1014.4V1033.3M1482.1 1014.7V1031.1M1483.9 1015.2V1031.9M1485.7 1008.7V1028.3M1487.5 1004.6V1022.3M1489.3 1001.1V1023.4M1491.1 1000.9V1020.3M1492.9 999.2V1016.8M1494.7 998.2V1016.5M1496.5 996.8V1015.8M1498.3 990.6V1012.2M1500.1 988.6V1009.6M1501.9 985.9V1007.3M1503.7 980.9V1004.4M1505.5 979V1000.2M1507.3 978.2V999.8M1509.1 977.5V998.4M1510.9 970.7V994.3M1512.7 970.1V993.1M1514.5 969.7V992.5M1516.3 966.8V989.9M1518.1 961.6V988.5M1519.9 954.9V981.3M1521.7 956.3V980.3M1523.5 949.3V974.5M1525.3 944.9V969.8M1527.1 942.1V972.3M1528.9 934.9V964.4M1530.7 930.5V959.9M1532.5 928.4V954.2M1534.3 925.7V953.2M1536.1 921.2V948.2M1537.9 918V946.2M1539.7 913.6V942.2M1541.5 909V937M1543.3 907.8V935.1M1545.1 897.8V927.6M1546.9 895.5V926.1M1548.7 893V922.4M1550.5 884V914.6M1552.3 881.3V912.1M1554.1 875.4V907M1555.9 872.2V904M1557.7 866.6V899.5M1559.5 855.4V890.9M1561.3 849.7V883.5M1563.1 848.4V881.2M1564.9 842.1V876.7M1566.7 834.7V868.6M1568.5 828.9V863.8M1570.3 826V860M1572.1 823.9V857.8M1573.9 813.7V849.7M1575.7 805.8V839.5M1577.5 798.9V836.3M1579.3 795V830.4M1581.1 792.3V828.5M1582.9 785.3V821.2M1584.7 781V816.5M1586.5 775.8V811.5M1588.3 767.7V803M1590.1 760.5V796.8M1591.9 751.8V791.2M1593.7 748.3V785M1595.5 743.1V778.9M1597.3 734.9V775.9M1599.1 726.2V763.6M1600.9 724.6V764.6M1602.7 720.9V757.5M1604.5 716V753.1M1606.3 706.1V746.4M1608.1 698V735.7M1609.9 693.3V729.6M1611.7 687.8V725.5M1613.5 682.4V720.6M1615.3 674.7V712.7M1617.1 663.4V701.3M1618.9 655.8V695.7M1620.7 644.3V686M1622.5 643V685M1624.3 641.4V676.3M1626.1 641.9V673.5M1627.9 642.4V668.8M1629.7 642.9V660.4M1631.5 643.4V654.9M1633.3 643.9V649.4" stroke="#D95319"/>
</g>
<text transform="translate(173.9 73.2) scale(0.985 1)" font-size="55.9" text-anchor="end" fill="#262626" letter-spacing="0.6" stroke="#ffffff" stroke-width="0.35">50</text>
<text transform="translate(173.9 301) scale(0.985 1)" font-size="55.9" text-anchor="end" fill="#262626" letter-spacing="0.6" stroke="#ffffff" stroke-width="0.35">30</text>
<text transform="translate(173.9 528.8) scale(0.985 1)" font-size="55.9" text-anchor="end" fill="#262626" letter-spacing="0.6" stroke="#ffffff" stroke-width="0.35">10</text>
<text transform="translate(173.9 754.1) scale(0.985 1)" font-size="55.9" text-anchor="end" fill="#262626" letter-spacing="0.6" stroke="#ffffff" stroke-width="0.35">-<tspan dx="-2.3">10</tspan></text>
<text transform="translate(173.9 982.1) scale(0.985 1)" font-size="55.9" text-anchor="end" fill="#262626" letter-spacing="0.6" stroke="#ffffff" stroke-width="0.35">-<tspan dx="-2.3">30</tspan></text>
<text transform="translate(173.9 1209.6) scale(0.985 1)" font-size="55.9" text-anchor="end" fill="#262626" letter-spacing="0.6" stroke="#ffffff" stroke-width="0.35">-<tspan dx="-2.3">50</tspan></text>
<text transform="translate(193.4 1256) scale(0.985 1)" font-size="55.9" text-anchor="middle" fill="#262626" letter-spacing="0.6" stroke="#ffffff" stroke-width="0.35">0</text>
<text transform="translate(481.66 1256) scale(0.985 1)" font-size="55.9" text-anchor="middle" fill="#262626" letter-spacing="0.6" stroke="#ffffff" stroke-width="0.35">2</text>
<text transform="translate(768.72 1256) scale(0.985 1)" font-size="55.9" text-anchor="middle" fill="#262626" letter-spacing="0.6" stroke="#ffffff" stroke-width="0.35">4</text>
<text transform="translate(1055.78 1256) scale(0.985 1)" font-size="55.9" text-anchor="middle" fill="#262626" letter-spacing="0.6" stroke="#ffffff" stroke-width="0.35">6</text>
<text transform="translate(1342.84 1256) scale(0.985 1)" font-size="55.9" text-anchor="middle" fill="#262626" letter-spacing="0.6" stroke="#ffffff" stroke-width="0.35">8</text>
<text transform="translate(1629.9 1256) scale(0.985 1)" font-size="55.9" text-anchor="middle" fill="#262626" letter-spacing="0.6" stroke="#ffffff" stroke-width="0.35">10</text>
<text transform="translate(806.6 1324.2) scale(1.005 1)" font-size="66" text-anchor="start" fill="#262626" stroke="#ffffff" stroke-width="0.35">Time(s)</text>
<text transform="translate(80.4 885.2) rotate(-90) scale(1.0416 1)" font-size="66" text-anchor="start" fill="#262626" stroke="#ffffff" stroke-width="0.8">Displacement(mm)</text>
<rect x="806" y="74.5" width="801.3" height="123.5" fill="#ffffff" stroke="#262626" stroke-width="6.5" stroke-opacity="0.5"/>
<rect x="806" y="74.5" width="801.3" height="123.5" fill="none" stroke="#262626" stroke-width="2.5"/>
<g fill="none" stroke-width="9.9"><path d="M816.8 109.6H949.4" stroke="#0072BD"/><path d="M816.8 167.3H949.4" stroke="#D95319"/></g>
<clipPath id="c1"><rect x="950" y="78" width="655" height="61.5"/></clipPath><clipPath id="c2"><rect x="950" y="140" width="655" height="54.9"/></clipPath>
<g clip-path="url(#c1)"><text transform="translate(957.9 132.8) scale(1.039 1)" font-size="55.7" text-anchor="start" fill="#000000" stroke="#ffffff" stroke-width="0.35">Given Displacement Signal</text></g>
<g clip-path="url(#c2)"><text transform="translate(958.9 188.4) scale(1.048 1)" font-size="55.7" text-anchor="start" fill="#000000" stroke="#ffffff" stroke-width="0.35">Displacement Test Data</text></g>
</g>
</svg></body></html>
